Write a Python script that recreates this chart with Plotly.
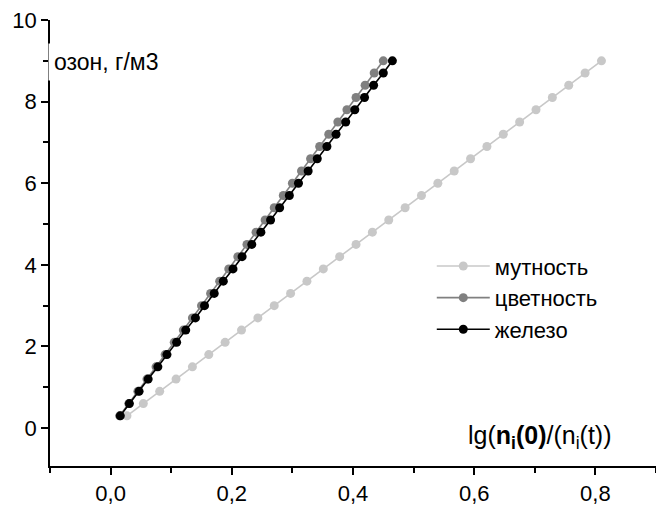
import plotly.graph_objects as go

ozone = [0.3, 0.6, 0.9, 1.2, 1.5, 1.8, 2.1, 2.4, 2.7, 3.0, 3.3, 3.6, 3.9, 4.2, 4.5,
         4.8, 5.1, 5.4, 5.7, 6.0, 6.3, 6.6, 6.9, 7.2, 7.5, 7.8, 8.1, 8.4, 8.7, 9.0]

mutnost = [0.027, 0.054, 0.081, 0.108, 0.135, 0.162, 0.189, 0.216, 0.243, 0.270,
           0.297, 0.324, 0.351, 0.378, 0.405, 0.432, 0.459, 0.486, 0.513, 0.540,
           0.567, 0.594, 0.621, 0.648, 0.675, 0.702, 0.729, 0.756, 0.783, 0.810]

cvetnost = [0.015, 0.030, 0.045, 0.060, 0.075, 0.090, 0.105, 0.120, 0.135, 0.150,
            0.165, 0.180, 0.195, 0.210, 0.225, 0.240, 0.255, 0.270, 0.285, 0.300,
            0.315, 0.330, 0.345, 0.360, 0.375, 0.390, 0.405, 0.420, 0.435, 0.450]

zhelezo = [0.016, 0.031, 0.047, 0.062, 0.078, 0.093, 0.109, 0.124, 0.140, 0.155,
           0.171, 0.186, 0.202, 0.217, 0.233, 0.248, 0.264, 0.279, 0.295, 0.310,
           0.326, 0.341, 0.357, 0.372, 0.388, 0.403, 0.419, 0.434, 0.450, 0.465]

series_names = ["мутность", "цветность", "железо"]
series_x = [mutnost, cvetnost, zhelezo]
colors = ["#c8c8c8", "#808080", "#000000"]

FONT = "Liberation Sans, Arial, sans-serif"

fig = go.Figure()
for name, xs, c in zip(series_names, series_x, colors):
    fig.add_trace(go.Scatter(
        x=xs, y=ozone, name=name, mode="lines+markers",
        line=dict(color=c, width=1.6),
        marker=dict(color=c, size=9, symbol="circle"),
    ))

fig.update_layout(
    width=656, height=506,
    margin=dict(l=50, r=0, t=20, b=40),
    paper_bgcolor="white", plot_bgcolor="white",
    separators=", ",
    font=dict(family=FONT, size=22, color="black"),
    showlegend=True,
    legend=dict(
        x=0.63, y=0.495, xanchor="left", yanchor="top",
        bgcolor="rgba(0,0,0,0)", font=dict(size=22, family=FONT),
        tracegroupgap=0, itemwidth=53,
    ),
)

fig.update_xaxes(
    range=[-0.1, 0.9], showgrid=False, zeroline=False,
    showline=True, linecolor="black", linewidth=1.6,
    ticks="outside", ticklen=7, tickwidth=1.6, tickcolor="black",
    tick0=0, dtick=0.2, tickformat=".1f",
    minor=dict(ticks="outside", ticklen=5, tickwidth=1.6, tickcolor="black", dtick=0.1, tick0=0),
    tickfont=dict(size=22, family=FONT),
)
fig.update_yaxes(
    range=[-0.93, 10], showgrid=False, zeroline=False,
    showline=True, linecolor="black", linewidth=1.6,
    ticks="outside", ticklen=7, tickwidth=1.6, tickcolor="black",
    tick0=0, dtick=2,
    minor=dict(ticks="outside", ticklen=5, tickwidth=1.6, tickcolor="black", dtick=1, tick0=0),
    tickfont=dict(size=22, family=FONT),
)

fig.add_annotation(
    x=-0.1, y=8.97, xref="x", yref="y", xanchor="left", yanchor="middle",
    xshift=-2, text="озон, г/м3", showarrow=False,
    font=dict(size=23, family=FONT), bgcolor="white", borderpad=5,
)
fig.add_annotation(
    x=0.9, y=-0.22, xref="x", yref="y", xanchor="right", yanchor="middle",
    xshift=-42, text="lg(<b>n<sub>i</sub>(0)</b>/(n<sub>i</sub>(t))", showarrow=False,
    font=dict(size=25, family=FONT),
)

fig.write_html("out.html", config={"displayModeBar": False},
               post_script="document.body.style.margin='0';document.body.style.overflow='hidden';")
